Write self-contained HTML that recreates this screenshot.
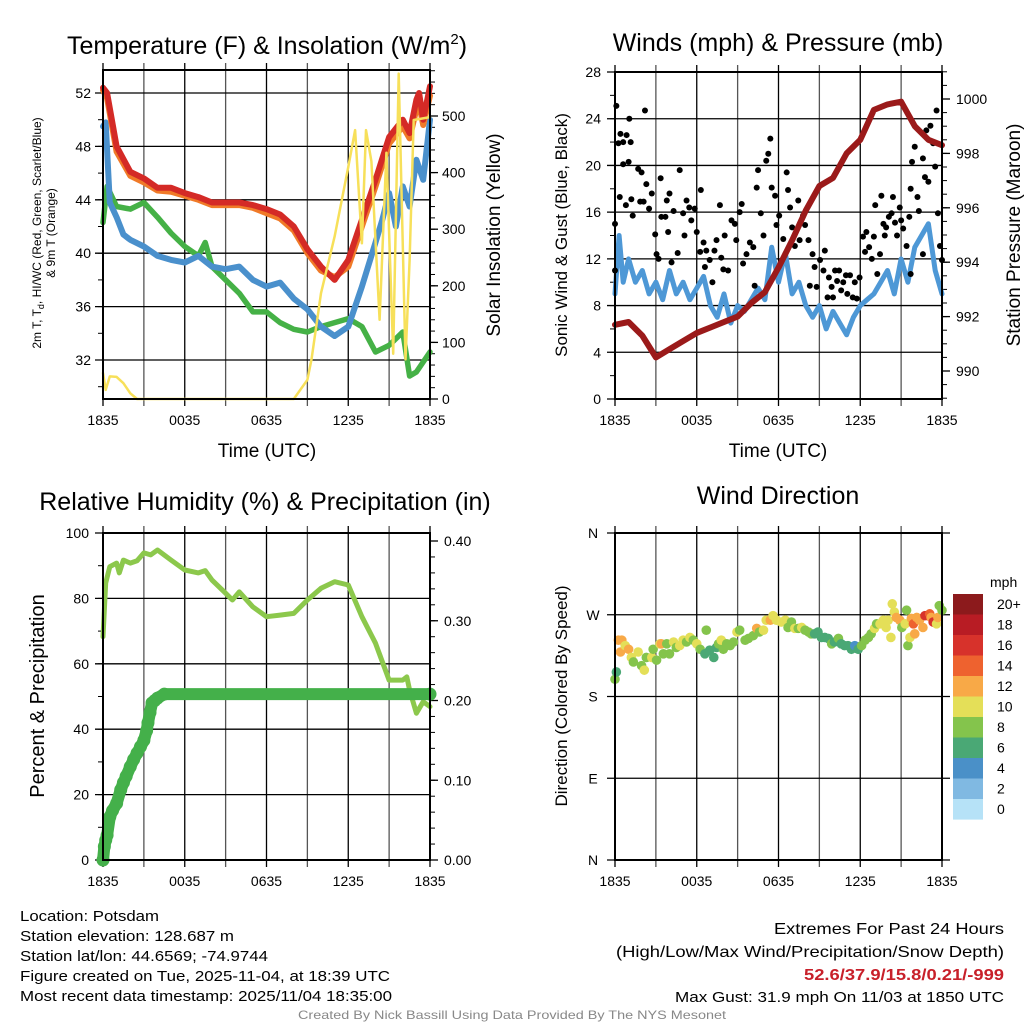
<!DOCTYPE html>
<html><head><meta charset="utf-8"><style>
html,body{margin:0;padding:0;background:#fff;}
svg{display:block;font-family:"Liberation Sans",Arial,sans-serif;}
</style></head><body>
<svg id="c" width="1024" height="1024" viewBox="0 0 1024 1024" xmlns="http://www.w3.org/2000/svg"></svg>
<script>
// ---------- DATA ----------
const tempT=[0,0.3,1,2,3,4,5,6,7,8,9,10,11,12,13,14,15,16,17,18,19,20,21,22,22.5,23,23.2,23.5,24];
const tempV=[52.4,52,48,46.1,45.6,44.9,44.9,44.5,44.2,43.8,43.8,43.8,43.6,43.3,42.9,42,40.3,39,38,39.5,42.5,45.5,48.7,50,49,51.5,52,50,52.5];
const t9mV=[52.2,51.6,47.6,45.8,45.3,44.7,44.6,44.3,44.0,43.6,43.6,43.6,43.4,43.0,42.6,41.7,40.0,38.7,38.2,39.0,42.0,45.0,48.2,49.5,48.6,50.8,51.2,49.6,51.8];
const wcT=[0,0.2,0.5,1,1.5,2,3,4,5,6,7,8,9,10,11,12,13,14,15,16,17,18,19,20,20.5,21,21.5,22,22.5,23,23.5,24];
const wcV=[49.5,49.8,43.8,42.7,41.4,41,40.5,39.8,39.5,39.3,39.8,39,38.8,39,38,37.5,37.8,36.6,35.8,34.5,33.8,34.5,37.5,40.8,42.5,44.5,42,45,43.5,47,45.5,50];
const tdT=[0,0.3,1,2,3,4,5,6,7,7.5,8,9,10,11,12,13,14,15,16,17,18,19,20,21,22,22.5,23,24];
const tdV=[42.3,45,43.5,43.3,43.8,42.7,41.5,40.5,39.8,40.8,39,38,37,35.6,35.6,34.8,34.3,34.1,34.5,34.8,35.1,34.5,32.6,33.1,34.1,30.8,31.1,32.6];
const solT=[0,0.2,0.5,1,1.5,2,2.5,14,15,15.3,16,17,18,18.5,19,19.3,19.7,20.3,20.8,21.3,21.7,22.2,22.5,22.8,24];
const solV=[46,16,40,39,28,10,0,0,34,70,187,287,410,475,275,475,420,140,435,80,575,70,245,493,498];

const presT=[0,1,2,3,4,5,6,7,8,9,10,11,12,13,14,15,16,17,18,19,20,21,22,23,24];
const presV=[991.7,991.8,991.3,990.5,990.8,991.1,991.4,991.6,991.8,992.0,992.5,992.9,993.8,994.8,995.9,996.8,997.1,998.0,998.5,999.6,999.8,999.9,999.0,998.5,998.3];
const windT=[0,0.3,0.6,1,1.5,2,2.5,3,3.5,4,4.5,5,5.5,6,6.5,7,7.5,8,8.5,9,9.5,10,10.5,11,11.5,12,12.5,13,13.5,14,14.5,15,15.5,16,16.5,17,17.5,18,18.5,19,19.5,20,20.5,21,21.5,22,22.5,23,23.5,24];
const windV=[9,14,10,12,10,11,9,10,8.5,11,9,10,8.5,9.5,10.5,8,7,9,6.5,8,7.5,8.5,9.5,8.5,13,10,12.5,9,10,8,7,8,6,7.5,6.5,5.5,7,8,8.5,9,10,11,9,12,10,13,14,15,11,9];
const gustT=[0,0,0.1,0.25,0.4,0.6,0.85,1.05,1.15,0.6,1,0.35,0.8,1.2,1.3,1.7,1.95,2.3,2.2,1.85,2.1,2.5,2.7,2.95,3.05,3.2,3.35,3.4,3.7,3.8,4.0,3.9,4.15,4.3,4.6,4.75,5.0,5.25,5.1,5.45,5.6,5.85,6.0,6.3,6.25,6.5,6.7,6.6,6.95,7.15,7.3,7.45,7.7,7.8,7.95,8.05,8.3,8.55,8.8,8.9,9.15,9.3,9.4,9.65,9.9,10.15,10.25,10.4,10.5,10.7,10.9,11.1,11.25,11.4,11.5,11.75,11.85,12.05,12.35,12.6,12.7,12.85,13,13.2,13.45,13.55,13.8,13.95,14.2,14.3,14.5,14.65,14.8,15.05,15.3,15.4,15.6,15.7,15.9,16,16.15,16.3,16.45,16.6,16.75,16.95,17.05,17.25,17.45,17.6,17.75,17.95,18.2,18.35,18.45,18.65,18.85,19.0,19.1,19.25,19.45,19.55,19.7,19.8,19.9,20.1,20.3,20.4,20.55,20.7,20.9,21.0,21.15,21.4,21.6,21.7,21.8,22.0,22.2,22.3,22.6,22.75,22.85,23.0,23.15,23.35,23.5,23.7,23.85,23.6,24,22.6,21.7];
const gustV=[15,11,25.1,21.9,22.7,22,22.6,24,22,20.1,20.3,17.3,16.6,17.1,15.7,19.7,19.4,18.4,24.7,16.9,16.9,16.3,17.6,14.1,12.4,12,18.9,15.6,15.6,17,17.6,14.3,11.7,16.1,12.5,19.6,15.9,17,14,16.4,15.3,16.3,14.3,17.9,12.6,13.4,12.7,11.3,11.9,10,12.7,13.6,16.6,12.1,11.1,14,11,15.3,15,13.6,16,16.7,11.6,12.4,13.4,13,9.7,18.1,19.6,15.9,14,20.4,21,22.3,18.1,17.4,14.9,15.7,13.7,19.4,17.9,16.4,14.7,13.1,17,13.6,15.7,14.9,13.6,9.7,12.4,11.3,9.6,11.9,11,12.7,8.7,10.4,9.6,8.7,11,10.1,11,9.3,10,10.6,9,10.6,8.7,10,8.6,10.4,13.9,12.6,14.3,13,12,13.9,16.6,10.7,12.4,17.4,15,14,14.7,15.6,15.9,17.3,15.1,14,16.4,15.3,14.6,13.1,15.6,18,20.3,21.6,17.3,16.1,20.6,19,23,18.6,23.4,21.9,19.9,15.9,13.1,24.7,11.9,12.4,10.7];

const rhT=[0,0.2,0.5,1,1.2,1.5,2,2.5,3,3.5,4,5,6,7,7.5,8,9,9.5,10,11,12,13,14,15,16,17,18,19,20,21,22,22.3,22.5,23,23.5,24];
const rhV=[68.3,84.7,89.7,90.8,87.8,91.7,90.8,91.5,93.9,93.3,94.8,91.7,88.7,87.8,88.5,85.6,81.6,79.5,82,77.4,74.4,74.9,75.4,79.5,83.1,85.1,84.1,74.4,66.3,55,55,56,52,44.9,48.4,46.9];
const prT=[0,0.1,0.2,0.3,0.5,0.7,1,1.3,1.5,1.7,2,2.25,2.5,2.75,3,3.2,3.3,3.45,3.6,3.8,4,4.5,24];
const prV=[0,0.017,0.025,0.031,0.054,0.062,0.071,0.088,0.097,0.105,0.117,0.126,0.134,0.142,0.15,0.162,0.172,0.185,0.197,0.2,0.203,0.208,0.208];

const dirT=[0,0.1,0.25,0.5,0.4,0.75,1,1.2,1.35,1.7,1.95,2.15,2.3,2.7,2.8,3.05,3.3,3.4,3.55,3.8,4,4.3,4.5,4.75,5,5.25,5.5,5.75,6,6.25,6.6,6.7,6.95,7.25,7.45,7.6,7.8,7.95,8.2,8.45,8.7,8.95,9.15,9.55,9.8,10.15,10.4,10.6,10.9,11.1,11.4,11.6,11.85,12.2,12.5,12.7,12.95,13.2,13.45,13.7,13.95,14.2,14.4,14.65,14.9,15.15,15.4,15.65,15.9,16.1,16.4,16.6,16.85,17.1,17.35,17.6,17.85,18.1,18.35,18.6,18.8,19.05,19.2,19.45,19.7,19.9,20.05,20.25,20.35,20.5,20.65,20.9,21.05,21.3,21.4,21.5,21.65,21.75,21.9,22.0,22.15,22.35,22.6,22.75,22.95,23.1,23.2,23.35,23.6,23.7,23.8,24];
const dirV=[199,207,242,242,229,236,232,223,218,229,214,209,223,223,232,220,238,238,227,238,227,240,234,236,242,240,245,242,238,232,227,253,231,223,234,238,242,232,238,236,240,251,253,242,244,247,255,251,253,264,264,269,264,262,264,256,262,255,255,256,253,251,249,249,251,245,245,244,238,240,244,238,236,236,232,236,232,236,242,245,249,255,260,260,264,256,264,245,282,273,267,264,256,260,275,236,245,266,260,249,267,264,256,269,269,271,267,262,260,267,280,275];
const dirS=[8.5,6.5,12.5,12.5,12.5,10.5,12.5,10.5,8.5,10.5,8.5,10.5,8.5,10.5,8.5,8.5,10.5,12.5,8.5,8.5,8.5,10.5,8.5,10.5,10.5,8.5,10.5,8.5,10.5,8.5,6.5,8.5,6.5,6.5,6.5,8.5,10.5,8.5,8.5,8.5,8.5,10.5,8.5,8.5,8.5,8.5,12.5,8.5,10.5,10.5,12.5,10.5,10.5,10.5,10.5,8.5,8.5,10.5,8.5,10.5,8.5,8.5,8.5,6.5,6.5,6.5,6.5,6.5,8.5,6.5,8.5,6.5,6.5,6.5,6.5,4.5,6.5,8.5,8.5,8.5,8.5,10.5,8.5,10.5,10.5,10.5,10.5,10.5,10.5,10.5,12.5,12.5,8.5,10.5,8.5,8.5,10.5,12.5,14.5,12.5,12.5,12.5,12.5,16.5,16.5,14.5,12.5,16.5,10.5,12.5,8.5,8.5];

const xTickLabels=["1835","0035","0635","1235","1835"];
const tempTicks=[32,36,40,44,48,52];
const solTicks=[0,100,200,300,400,500];
const windTicks=[0,4,8,12,16,20,24,28];
const presTicks=[990,992,994,996,998,1000];
const rhTicks=[0,20,40,60,80,100];
const prTicks=[0,0.1,0.2,0.3,0.4];
const dirLabels=["N","E","S","W","N"];
const cbLabels=["20+","18","16","14","12","10","8","6","4","2","0"];
const cbColors=["#8c1a1c","#b81c24","#d7322b","#ee622f","#f8a947","#e4df58","#84c44c","#4aa875","#4a90c8","#80b9e2","#b6e2f7"];

// ---------- HELPERS ----------
const NS="http://www.w3.org/2000/svg";
const svg=document.getElementById('c');
function el(tag,attrs,parent){const e=document.createElementNS(NS,tag);for(const k in attrs)e.setAttribute(k,attrs[k]);(parent||svg).appendChild(e);return e;}
function txt(s,x,y,size,anchor,extra,parent){const e=el('text',Object.assign({x:x,y:y,'font-size':size,'text-anchor':anchor||'middle',fill:'#000'},extra||{}),parent);e.textContent=s;return e;}
function lin(a,b,c,d){return v=>c+(v-a)*(d-c)/(b-a);}
function poly(xs,ys,fx,fy,stroke,w,name,g){
  const p=xs.map((t,i)=>fx(t).toFixed(1)+','+fy(ys[i]).toFixed(1)).join(' ');
  const e=el('polyline',{points:p,fill:'none',stroke:stroke,'stroke-width':w,'stroke-linejoin':'round','stroke-linecap':'round'},g);
  
  
  return e;
}
function frame(x0,x1,y0,y1,g){
  for(let h=0;h<=24;h+=3){const x=x0+(x1-x0)*h/24;el('line',{x1:x,x2:x,y1:y0-7,y2:y1+7,stroke:h%6===0?'#000':'#555','stroke-width':1.3},g);}
}
function border(x0,x1,y0,y1,g){el('rect',{x:x0,y:y0,width:x1-x0,height:y1-y0,fill:'none',stroke:'#000','stroke-width':2},g);}
function xlabels(x0,x1,y,g){xTickLabels.forEach((s,i)=>{const t=txt(s,x0+(x1-x0)*i/4,y,14,'middle',{},g);});}

// ---------- PANEL 1 ----------
(function(){
const g=el('g',{});
const X0=103,X1=430,Y0=70,Y1=399;
const fx=lin(0,24,X0,X1), fy=lin(52,32,93,360), fs=lin(0,500,399,116);
frame(X0,X1,Y0,Y1,g);
tempTicks.forEach(v=>{el('line',{x1:X0-8,x2:X1,y1:fy(v),y2:fy(v),stroke:'#000','stroke-width':1.3},g);txt(String(v),X0-12,fy(v)+5,14,'end',{},g);});
for(let v=30;v<=53;v+=2){el('line',{x1:X0-5,x2:X0,y1:fy(v),y2:fy(v),stroke:'#000','stroke-width':1},g);}
solTicks.forEach(v=>{el('line',{x1:X1,x2:X1+8,y1:fs(v),y2:fs(v),stroke:'#000','stroke-width':1.3},g);txt(String(v),X1+12,fs(v)+5,14,'start',{},g);});
for(let v=0;v<=580;v+=20){el('line',{x1:X1,x2:X1+5,y1:fs(v),y2:fs(v),stroke:'#000','stroke-width':1},g);}
poly(tdT,tdV,fx,fy,'#45b146',5.5,'dewpoint-line',g);
poly(wcT,wcV,fx,fy,'#4a90cc',6,'wind-chill-line',g);
poly(tempT,t9mV,fx,fy,'#f07a28',6,'temp-9m-line',g);
poly(tempT,tempV,fx,fy,'#d42a26',6,'temp-2m-line',g);
poly(solT,solV,fx,fs,'#f7e05a',2.5,'insolation-line',g);
border(X0,X1,Y0,Y1,g);
xlabels(X0,X1,425,g);
const t=el('text',{x:267,y:54,'font-size':25,'text-anchor':'middle'},g);t.innerHTML='Temperature (F) &amp; Insolation (W/m<tspan font-size="15" dy="-10">2</tspan><tspan dy="10">)</tspan>';
txt('Time (UTC)',267,457,19,'middle',{},g);
txt('Solar Insolation (Yellow)',0,0,19,'middle',{transform:'translate(500,235) rotate(-90)',},g);
const yl=el('text',{transform:'translate(41,233) rotate(-90)','font-size':12,'text-anchor':'middle'},g);yl.innerHTML='2m T, T<tspan font-size="9" dy="3">d</tspan><tspan dy="-3">, HI/WC (Red, Green, Scarlet/Blue)</tspan>';
txt('& 9m T (Orange)',0,0,12,'middle',{transform:'translate(55,233) rotate(-90)'},g);
})();

// ---------- PANEL 2 ----------
(function(){
const g=el('g',{});
const X0=615,X1=942,Y0=72,Y1=399;
const fx=lin(0,24,X0,X1), fy=lin(0,28,399,72), fp=lin(1000,990,99,371);
frame(X0,X1,Y0,Y1,g);
windTicks.forEach(v=>{el('line',{x1:X0-8,x2:X1,y1:fy(v),y2:fy(v),stroke:'#000','stroke-width':1.3},g);txt(String(v),X0-14,fy(v)+5,14,'end',{},g);});
for(let v=0;v<=28;v+=2){el('line',{x1:X0-5,x2:X0,y1:fy(v),y2:fy(v),stroke:'#000','stroke-width':1},g);}
presTicks.forEach(v=>{el('line',{x1:X1,x2:X1+8,y1:fp(v),y2:fp(v),stroke:'#000','stroke-width':1.3},g);txt(String(v),X1+14,fp(v)+5,14,'start',{},g);});
for(let v=989;v<=1001;v+=0.5){el('line',{x1:X1,x2:X1+5,y1:fp(v),y2:fp(v),stroke:'#000','stroke-width':1},g);}
poly(windT,windV,fx,fy,'#4e98d6',5,'sustained-wind-line',g);
gustT.forEach((t,i)=>{const c=el('circle',{cx:fx(t),cy:fy(gustV[i]),r:3,fill:'#000'},g);});
poly(presT,presV,fx,fp,'#9b1a1a',6,'pressure-line',g);
border(X0,X1,Y0,Y1,g);
xlabels(X0,X1,425,g);
txt('Winds (mph) & Pressure (mb)',778,51,25,'middle',{},g);
txt('Time (UTC)',778,457,19,'middle',{},g);
txt('Sonic Wind & Gust (Blue, Black)',0,0,17,'middle',{transform:'translate(567,235) rotate(-90)',},g);
txt('Station Pressure (Maroon)',0,0,19,'middle',{transform:'translate(1020,235) rotate(-90)',},g);
})();

// ---------- PANEL 3 ----------
(function(){
const g=el('g',{});
const X0=103,X1=430,Y0=533,Y1=860;
const fx=lin(0,24,X0,X1), fy=lin(0,100,860,533), fp=lin(0,0.4,860,541);
frame(X0,X1,Y0,Y1,g);
rhTicks.forEach(v=>{el('line',{x1:X0-8,x2:X1,y1:fy(v),y2:fy(v),stroke:'#000','stroke-width':1.3},g);txt(String(v),X0-14,fy(v)+5,14,'end',{},g);});
for(let v=0;v<=100;v+=10){el('line',{x1:X0-5,x2:X0,y1:fy(v),y2:fy(v),stroke:'#000','stroke-width':1},g);}
prTicks.forEach(v=>{el('line',{x1:X1,x2:X1+8,y1:fp(v),y2:fp(v),stroke:'#000','stroke-width':1.3},g);txt(v.toFixed(2),X1+14,fp(v)+5,14,'start',{},g);});
for(let v=0;v<=0.41;v+=0.02){el('line',{x1:X1,x2:X1+5,y1:fp(v),y2:fp(v),stroke:'#000','stroke-width':1},g);}
poly(rhT,rhV,fx,fy,'#8cc84c',5,'humidity-line',g);
poly(prT,prV,fx,fp,'#44b04a',12,'precip-line',g);
prT.forEach((t,i)=>{const c=el('circle',{cx:fx(t),cy:fp(prV[i]),r:6.5,fill:'#44b04a'},g);});
border(X0,X1,Y0,Y1,g);
xlabels(X0,X1,886,g);
txt('Relative Humidity (%) & Precipitation (in)',265,510,25,'middle',{},g);
txt('Percent & Precipitation',0,0,20,'middle',{transform:'translate(44,696) rotate(-90)',},g);
})();

// ---------- PANEL 4 ----------
(function(){
const g=el('g',{});
const X0=615,X1=942,Y0=533,Y1=860;
const fx=lin(0,24,X0,X1), fy=lin(0,360,860,533);
frame(X0,X1,Y0,Y1,g);
dirLabels.forEach((s,i)=>{const y=fy(i*90);el('line',{x1:X0-8,x2:X1+8,y1:y,y2:y,stroke:'#000','stroke-width':1.3},g);txt(s,X0-22,y+5,14,'middle',{},g);});
dirT.forEach((t,i)=>{const b=Math.min(10,Math.floor(dirS[i]/2));const c=el('circle',{cx:fx(t),cy:fy(dirV[i]),r:4.8,fill:cbColors[10-b]},g);});
border(X0,X1,Y0,Y1,g);
xlabels(X0,X1,886,g);
txt('Wind Direction',778,504,25,'middle',{},g);
txt('Direction (Colored By Speed)',0,0,17,'middle',{transform:'translate(567,696) rotate(-90)',},g);
const cb=el('g',{},g);
cbColors.forEach((c,i)=>{el('rect',{x:953,y:594+i*20.5,width:30,height:20.6,fill:c},cb);txt(cbLabels[i],997,594+i*20.5+15,14,'start',{},cb);});
txt('mph',990,587,14,'start',{},cb);
})();

// ---------- FOOTER ----------
const left=["Location: Potsdam","Station elevation: 128.687 m","Station lat/lon: 44.6569; -74.9744","Figure created on Tue, 2025-11-04, at 18:39 UTC","Most recent data timestamp: 2025/11/04 18:35:00"];
const leftW=[139,214,248,370,372];
left.forEach((s,i)=>{const t=txt(s,20,921+i*20,15,'start',{textLength:leftW[i],lengthAdjust:'spacingAndGlyphs'});});
txt('Extremes For Past 24 Hours',1004,934,16,'end',{textLength:230,lengthAdjust:'spacingAndGlyphs'});
txt('(High/Low/Max Wind/Precipitation/Snow Depth)',1004,957,16,'end',{textLength:388,lengthAdjust:'spacingAndGlyphs'});
txt('52.6/37.9/15.8/0.21/-999',1004,980,16,'end',{fill:'#c8202a','font-weight':'bold',textLength:200,lengthAdjust:'spacingAndGlyphs',});
txt('Max Gust: 31.9 mph On 11/03 at 1850 UTC',1004,1002,15,'end',{textLength:329,lengthAdjust:'spacingAndGlyphs'});
txt('Created By Nick Bassill Using Data Provided By The NYS Mesonet',512,1019,12,'middle',{fill:'#888',textLength:428,lengthAdjust:'spacingAndGlyphs',});
</script>
</body></html>
